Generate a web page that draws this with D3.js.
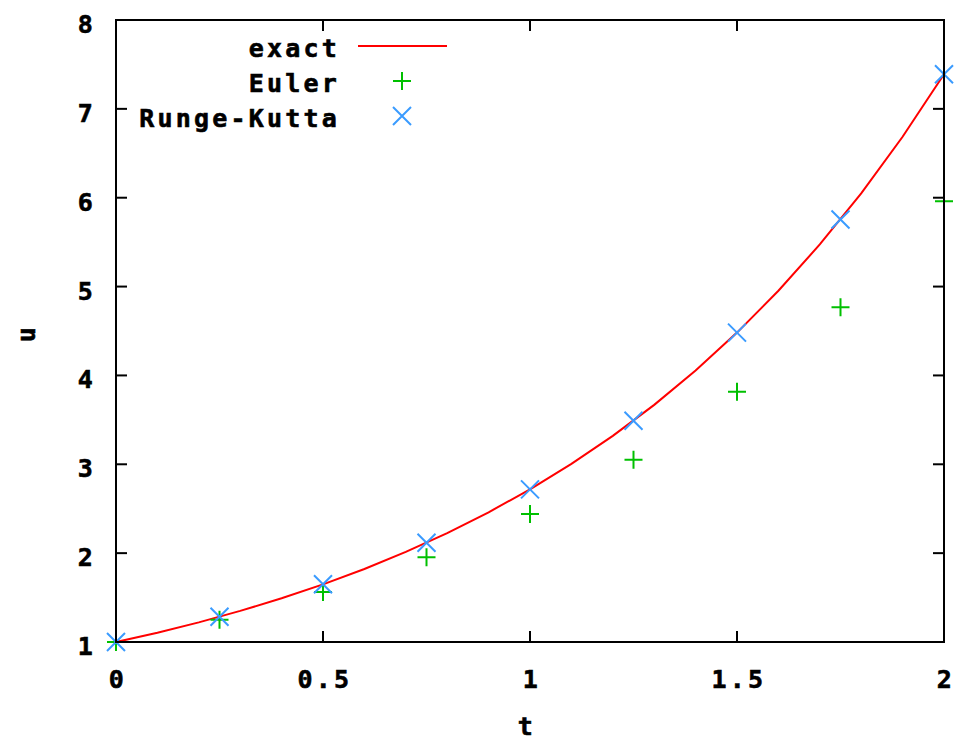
<!DOCTYPE html>
<html><head><meta charset="utf-8">
<script src="https://cdn.jsdelivr.net/npm/d3@7"></script>
<style>
html,body{margin:0;padding:0;background:#fff;}
text{font-family:"DejaVu Sans Mono","Liberation Mono",monospace;font-weight:bold;font-size:25px;letter-spacing:3.2px;fill:#000;stroke:#000;stroke-width:0.6px;}
</style></head><body>
<svg id="c" width="956" height="741"></svg>
<script>
// exact solution sampled values
const exactT = [0,0.1,0.2,0.3,0.4,0.5,0.6,0.7,0.8,0.9,1.0,1.1,1.2,1.3,1.4,1.5,1.6,1.7,1.8,1.9,2.0];
const exactU = [1,1.105,1.221,1.350,1.492,1.649,1.822,2.014,2.226,2.460,2.718,3.004,3.320,3.669,4.055,4.482,4.953,5.474,6.050,6.686,7.389];
// numerical methods
const stepT = [0,0.25,0.5,0.75,1.0,1.25,1.5,1.75,2.0];
const eulerU = [1,1.25,1.5625,1.953,2.441,3.052,3.815,4.768,5.960];
const rkU = [1,1.284,1.649,2.117,2.718,3.490,4.482,5.754,7.389];
const xTicks = [0,0.5,1,1.5,2];
const xTickLabels = ["0","0.5","1","1.5","2"];
const yTicks = [1,2,3,4,5,6,7,8];
const legendNames = ["exact","Euler","Runge-Kutta"];
const colors = {exact:"#ff0000", euler:"#00c000", rk:"#3a9bff"};

const svg = d3.select("#c");
const L=116, R=944, T=20, B=642;
const x = d3.scaleLinear().domain([0,2]).range([L,R]);
const y = d3.scaleLinear().domain([1,8]).range([B,T]);
const tk = 11;

// exact line
svg.append("path")
  .datum(exactT.map((t,i)=>[t,exactU[i]]))
  .attr("fill","none").attr("stroke",colors.exact).attr("stroke-width",2)
  .attr("d", d3.line().x(d=>x(d[0])).y(d=>y(d[1])));

const ms = 9;
function plus(g,cx,cy,col){
  g.append("path").attr("d",`M${cx-ms},${cy}H${cx+ms}M${cx},${cy-ms}V${cy+ms}`)
   .attr("stroke",col).attr("stroke-width",2).attr("fill","none");
}
function cross(g,cx,cy,col){
  g.append("path").attr("d",`M${cx-ms},${cy-ms}L${cx+ms},${cy+ms}M${cx-ms},${cy+ms}L${cx+ms},${cy-ms}`)
   .attr("stroke",col).attr("stroke-width",2).attr("fill","none");
}
const mk = svg.append("g");
stepT.forEach((t,i)=>plus(mk,x(t),y(eulerU[i]),colors.euler));
stepT.forEach((t,i)=>cross(mk,x(t),y(rkU[i]),colors.rk));

// border and ticks
const ax = svg.append("g").attr("stroke","#000").attr("stroke-width",2).attr("fill","none");
ax.append("rect").attr("x",L).attr("y",T).attr("width",R-L).attr("height",B-T);
xTicks.forEach(t=>{
  ax.append("line").attr("x1",x(t)).attr("x2",x(t)).attr("y1",B).attr("y2",B-tk);
  ax.append("line").attr("x1",x(t)).attr("x2",x(t)).attr("y1",T).attr("y2",T+tk);
});
yTicks.forEach(v=>{
  ax.append("line").attr("x1",L).attr("x2",L+tk).attr("y1",y(v)).attr("y2",y(v));
  ax.append("line").attr("x1",R).attr("x2",R-tk).attr("y1",y(v)).attr("y2",y(v));
});

// tick labels
xTicks.forEach((t,i)=>{
  svg.append("text").attr("x",x(t)+2).attr("y",688).attr("text-anchor","middle").text(xTickLabels[i]);
});
yTicks.forEach(v=>{
  svg.append("text").attr("x",96).attr("y",y(v)+13).attr("text-anchor","end").text(String(v));
});
// axis titles
svg.append("text").attr("x",527).attr("y",735).attr("text-anchor","middle").text("t");
svg.append("text").attr("transform","translate(35,333) rotate(-90)").attr("text-anchor","middle").text("u");

// legend
const lg = svg.append("g");
const rowY = [57,92,127];
legendNames.forEach((n,i)=>{
  lg.append("text").attr("x",340).attr("y",rowY[i]).attr("text-anchor","end").text(n);
});
lg.append("line").attr("x1",358).attr("x2",447).attr("y1",rowY[0]-11).attr("y2",rowY[0]-11)
  .attr("stroke",colors.exact).attr("stroke-width",2);
plus(lg,402,rowY[1]-11,colors.euler);
cross(lg,402,rowY[2]-11,colors.rk);
</script>
</body></html>
